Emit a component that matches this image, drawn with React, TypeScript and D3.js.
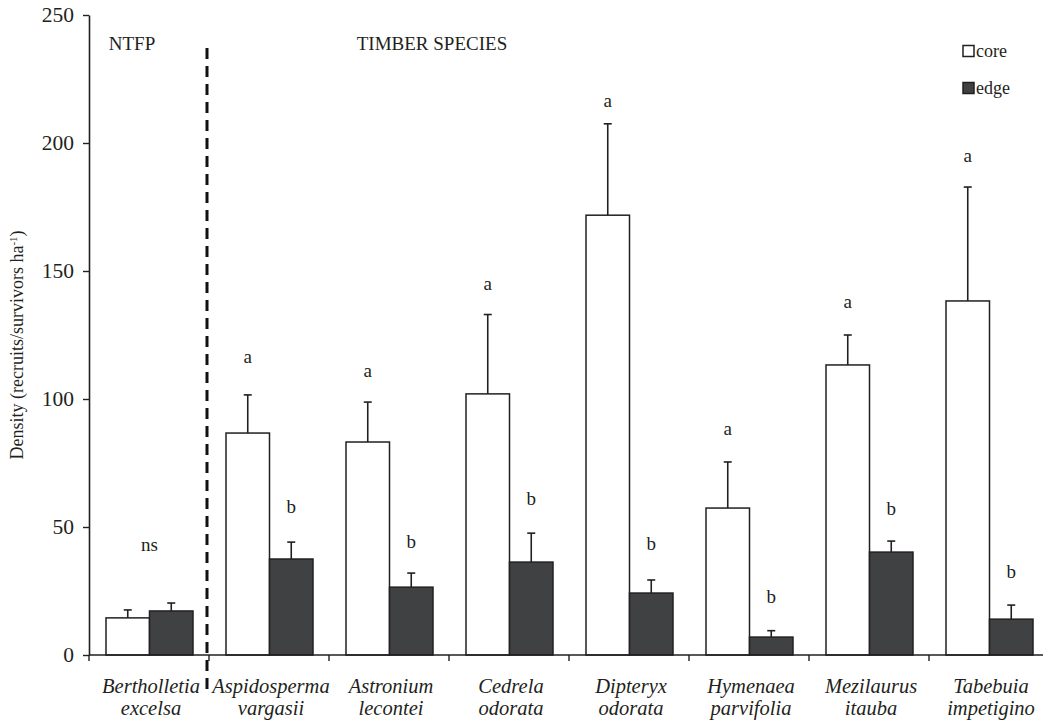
import React, { useEffect, useRef } from "react";
import * as d3 from "d3";

// species (genus / epithet), NTFP first then timber species
const genus = ["Bertholletia", "Aspidosperma", "Astronium", "Cedrela", "Dipteryx", "Hymenaea", "Mezilaurus", "Tabebuia"];
const epithet = ["excelsa", "vargasii", "lecontei", "odorata", "odorata", "parvifolia", "itauba", "impetigino"];

const coreMean = [14.5, 86.7, 83.2, 102, 171.8, 57.4, 113.3, 138.3];
const coreSE = [3.1, 14.9, 15.6, 31, 35.7, 18, 11.7, 44.5];
const edgeMean = [17.2, 37.5, 26.5, 36.3, 24.2, 7, 40.2, 14];
const edgeSE = [3.1, 6.6, 5.5, 11.3, 5.1, 2.5, 4.3, 5.5];

// significance letters and the density level they sit at
const coreLetters = ["", "a", "a", "a", "a", "a", "a", "a"];
const coreLetterAt = [0, 116, 110.5, 144.5, 216, 87.9, 137.5, 194.5];
const edgeLetters = ["", "b", "b", "b", "b", "b", "b", "b"];
const edgeLetterAt = [0, 57.4, 43.75, 60.5, 43, 22.3, 56.6, 32];
const nsLabel = { cat: 0, text: "ns", at: 42.6 };

const yTicks = [0, 50, 100, 150, 200, 250];
const seriesNames = ["core", "edge"];

const W = 1043;
const H = 720;
const FONT = "'Liberation Serif', 'Times New Roman', serif";
const INK = "#231f20";
const EDGE_FILL = "#404142";

export default function App() {
  const ref = useRef<SVGSVGElement>(null);

  useEffect(() => {
    const svg = d3.select(ref.current);
    svg.selectAll("*").remove();

    const cats = genus.map((g, i) => i);
    const x = d3.scaleBand<number>().domain(cats).range([89, 1049]).paddingInner(0).paddingOuter(0);
    const xs = d3.scaleBand<string>().domain(seriesNames).range([17, 104]);
    const y = d3.scaleLinear().domain([0, 250]).range([655, 15]);

    const g = svg.append("g").attr("font-family", FONT).attr("fill", INK);

    // y axis
    const yAxis = g.append("g")
      .attr("transform", "translate(89,0)")
      .call(d3.axisLeft(y).tickValues(yTicks).tickSize(6).tickSizeOuter(0).tickPadding(9));
    yAxis.select(".domain").attr("stroke", INK).attr("stroke-width", 1.6);
    yAxis.selectAll(".tick line").attr("stroke", INK).attr("stroke-width", 1.4);
    yAxis.selectAll(".tick text")
      .attr("font-family", FONT).attr("font-size", 21.5).attr("fill", INK);

    g.append("text")
      .attr("transform", `translate(23,${(y(0) + y(250)) / 2 + 10}) rotate(-90)`)
      .attr("text-anchor", "middle")
      .attr("font-size", 18)
      .text("Density (recruits/survivors ha")
      .append("tspan").attr("baseline-shift", "super").attr("font-size", 11).text("-1")
      .select(function () { return this.parentNode as any; })
      .append("tspan").text(")");

    // bars
    const series = [
      { key: "core", mean: coreMean, se: coreSE, fill: "#ffffff" },
      { key: "edge", mean: edgeMean, se: edgeSE, fill: EDGE_FILL },
    ];
    series.forEach((s) => {
      const bx = (i: number) => (x(i) as number) + (xs(s.key) as number);
      const bw = xs.bandwidth();
      g.append("g").selectAll("rect")
        .data(cats)
        .enter()
        .append("rect")
        .attr("x", (i) => bx(i))
        .attr("y", (i) => y(s.mean[i]))
        .attr("width", bw)
        .attr("height", (i) => y(0) - y(s.mean[i]))
        .attr("fill", s.fill)
        .attr("stroke", INK)
        .attr("stroke-width", 1.5);

      // error bars
      const eb = g.append("g").attr("stroke", INK).attr("stroke-width", 1.6);
      eb.selectAll("line.v")
        .data(cats).enter().append("line")
        .attr("x1", (i) => bx(i) + bw / 2).attr("x2", (i) => bx(i) + bw / 2)
        .attr("y1", (i) => y(s.mean[i])).attr("y2", (i) => y(s.mean[i] + s.se[i]));
      eb.selectAll("line.c")
        .data(cats).enter().append("line")
        .attr("x1", (i) => bx(i) + bw / 2 - 4).attr("x2", (i) => bx(i) + bw / 2 + 4)
        .attr("y1", (i) => y(s.mean[i] + s.se[i])).attr("y2", (i) => y(s.mean[i] + s.se[i]));
    });

    // x axis
    g.append("line")
      .attr("x1", 89).attr("x2", W).attr("y1", y(0)).attr("y2", y(0))
      .attr("stroke", INK).attr("stroke-width", 1.6);
    const bounds = cats.map((i) => x(i) as number).concat([x.range()[1]]);
    g.append("g").selectAll("line")
      .data(bounds).enter().append("line")
      .attr("x1", (d) => d).attr("x2", (d) => d)
      .attr("y1", y(0)).attr("y2", y(0) + 6)
      .attr("stroke", INK).attr("stroke-width", 1.4);

    const labels = g.append("g")
      .attr("font-style", "italic").attr("font-size", 20.5).attr("text-anchor", "middle");
    cats.forEach((i) => {
      const cx = (x(i) as number) + x.bandwidth() / 2 + 2;
      labels.append("text").attr("x", cx).attr("y", 693).text(genus[i]);
      labels.append("text").attr("x", cx).attr("y", 715).text(epithet[i]);
    });

    // significance letters
    const lg = g.append("g").attr("font-size", 19).attr("text-anchor", "middle");
    cats.forEach((i) => {
      if (coreLetters[i]) {
        lg.append("text")
          .attr("x", (x(i) as number) + (xs("core") as number) + xs.bandwidth() / 2)
          .attr("y", y(coreLetterAt[i]) + 5).text(coreLetters[i]);
      }
      if (edgeLetters[i]) {
        lg.append("text")
          .attr("x", (x(i) as number) + (xs("edge") as number) + xs.bandwidth() / 2)
          .attr("y", y(edgeLetterAt[i]) + 5).text(edgeLetters[i]);
      }
    });
    lg.append("text")
      .attr("x", (x(nsLabel.cat) as number) + (xs("edge") as number))
      .attr("y", y(nsLabel.at) + 5).text(nsLabel.text);

    // NTFP / timber divider
    g.append("line")
      .attr("x1", 207).attr("x2", 207).attr("y1", 48).attr("y2", 690)
      .attr("stroke", "#111").attr("stroke-width", 3).attr("stroke-dasharray", "11,7");

    g.append("text").attr("x", 132).attr("y", 50).attr("text-anchor", "middle")
      .attr("font-size", 19).text("NTFP");
    g.append("text").attr("x", 432).attr("y", 50).attr("text-anchor", "middle")
      .attr("font-size", 19).text("TIMBER SPECIES");

    // legend
    const leg = g.append("g").attr("font-size", 18);
    series.forEach((s, k) => {
      const ly = 51 + k * 37;
      leg.append("rect").attr("x", 963).attr("y", ly - 5.5).attr("width", 11).attr("height", 11)
        .attr("fill", s.fill).attr("stroke", INK).attr("stroke-width", 1.5);
      leg.append("text").attr("x", 976).attr("y", ly + 6).text(s.key);
    });
  }, []);

  return (
    <svg
      ref={ref}
      width={W}
      height={H}
      style={{ position: "absolute", left: 0, top: 0, background: "#fff" }}
    />
  );
}
